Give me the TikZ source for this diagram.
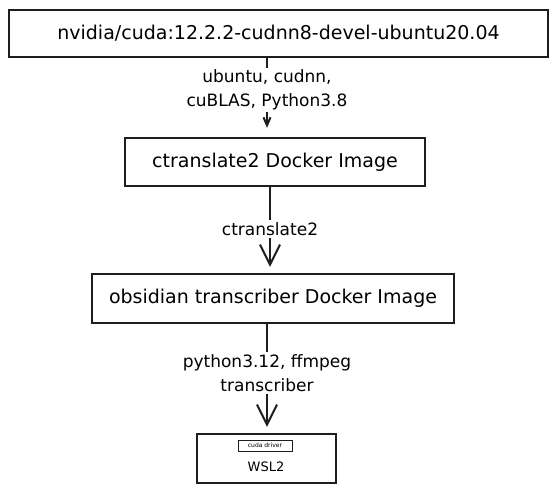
\documentclass[tikz,border=0pt]{standalone}
\usepackage{fontspec}
\setmainfont{DejaVu Sans}
\usetikzlibrary{positioning}
\usetikzlibrary{arrows.meta}
\definecolor{sketchgrey}{RGB}{30, 30, 30}

\begin{document}
\begin{tikzpicture}[x=1pt, y=-1pt,
        imgbox/.style={draw=sketchgrey, line width=2.4pt, text=black, inner sep=0pt, font=\fontsize{19}{22}\selectfont},
        linklabel/.style={align=center, text=black, inner sep=2pt, font=\fontsize{17}{24}\selectfont},
        link/.style={draw=sketchgrey, line width=2.4pt},
        linkarrow/.style={link, -{Straight Barb[length=20pt, width=20pt, line width=2pt]}, shorten >=6pt}]

        \useasboundingbox (0,0) rectangle (558,493);

        % Base image
        \node[imgbox, minimum width=539pt, minimum height=47pt] (cudaBox) at (278.5,33.5) {nvidia/cuda:12.2.2-cudnn8-devel-ubuntu20.04};

        % ctranslate2 image
        \node[imgbox, minimum width=300pt, minimum height=48pt] (ctBox) at (275,162) {ctranslate2 Docker Image};

        % transcriber image
        \node[imgbox, minimum width=362pt, minimum height=49pt] (obsBox) at (273,298.5) {obsidian transcriber Docker Image};

        % Host
        \node[imgbox, minimum width=139pt, minimum height=49pt] (wslBox) at (266.5,458.5) {};
        \node[draw=sketchgrey, line width=1pt, minimum width=54pt, minimum height=11pt, inner sep=0pt, font=\fontsize{6}{7}\selectfont] (driverBox) at (265,445.5) {cuda driver};
        \node[font=\fontsize{13}{15}\selectfont] (wslLabel) at (266,467) {WSL2};

        % Labels on the links
        \node[linklabel] (baseLabel) at (267,90) {ubuntu, cudnn,\\cuBLAS, Python3.8};
        \node[linklabel] (ctLabel) at (270,229) {ctranslate2};
        \node[linklabel] (obsLabel) at (267,373) {python3.12, ffmpeg\\transcriber};

        % Links
        \draw[link] (baseLabel.north |- cudaBox.south) -- (baseLabel.north);
        \draw[link, -{Straight Barb[length=8pt, width=7pt, line width=2pt]}, shorten >=9pt] (baseLabel.south) -- (baseLabel.south |- ctBox.north);
        \draw[link] (ctLabel.north |- ctBox.south) -- (ctLabel.north);
        \draw[linkarrow] (ctLabel.south) -- (ctLabel.south |- obsBox.north);
        \draw[link] (obsLabel.north |- obsBox.south) -- (obsLabel.north);
        \draw[linkarrow] (obsLabel.south) -- (obsLabel.south |- wslBox.north);

    \end{tikzpicture}
\end{document}
